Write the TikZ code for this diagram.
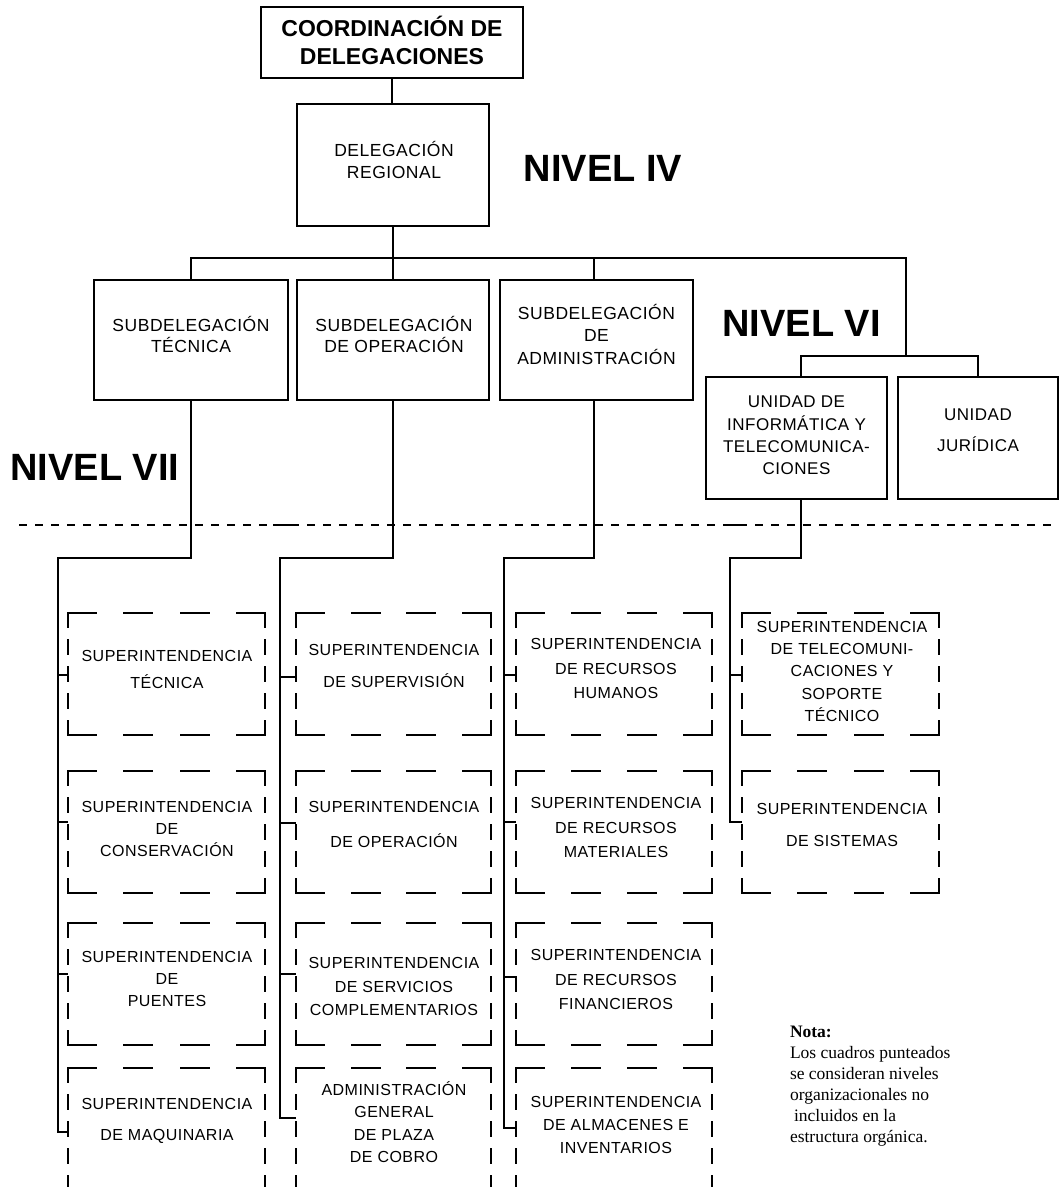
\documentclass[tikz,border=0pt]{standalone}
\usepackage{fontspec}
\setmainfont{Liberation Sans}
\newfontfamily\boxfont[LetterSpace=3]{Liberation Sans}
\newfontfamily\notefont{Liberation Serif}
\newcommand\dbox[4]{%
  \node[dbx, minimum width=#4pt, minimum height=122pt] (#1) at (#2,#3) {};
  \pgfmathsetmacro\hdash{#4/7}%
  \draw[dsides, dash pattern=on \hdash pt off \hdash pt] (#1.north west) -- (#1.north east);
  \draw[dsides, dash pattern=on \hdash pt off \hdash pt] (#1.south west) -- (#1.south east);
  \draw[dsides, dash pattern=on 13.56pt off 13.56pt] (#1.north west) -- (#1.south west);
  \draw[dsides, dash pattern=on 13.56pt off 13.56pt] (#1.north east) -- (#1.south east);
}
\begin{document}
\begin{tikzpicture}[x=1pt,y=-1pt,line width=2pt]
\tikzset{
  sbox/.style={draw, line width=2pt, inner sep=0, outer sep=0},
  dbx/.style={inner sep=0, outer sep=0},
  dsides/.style={line width=2pt, line cap=rect},
  uptxt/.style={font=\boxfont\fontsize{17.5}{22}\selectfont, align=center, inner sep=0},
  lowtxt/.style={font=\boxfont\fontsize{16}{23}\selectfont, align=center, inner sep=0},
  lvl/.style={font=\bfseries\fontsize{38}{40}\selectfont, inner sep=0},
  conn/.style={line width=2pt},
}
\useasboundingbox (0,0) rectangle (1059,1187);
\clip (0,0) rectangle (1059,1187);
\fill[white] (0,0) rectangle (1059,1187);

% ---------- top boxes ----------
\node[sbox, minimum width=262pt, minimum height=71pt] (coord) at (392,42.5) {};
\node[font=\bfseries\fontsize{23}{27.5}\selectfont, align=center, inner sep=0] (tcoord) at (392,40.5) {COORDINACIÓN DE\\DELEGACIONES};

\node[sbox, minimum width=192pt, minimum height=122pt] (deleg) at (393,165) {};
\node[uptxt, font=\boxfont\fontsize{17.5}{22}\selectfont] (tdeleg) at (394,159.5) {DELEGACIÓN\\REGIONAL};

\node[sbox, minimum width=194pt, minimum height=120pt] (sd1) at (191,340) {};
\node[uptxt, font=\boxfont\fontsize{17.5}{20.5}\selectfont] (tsd1) at (191,334.5) {SUBDELEGACIÓN\\TÉCNICA};
\node[sbox, minimum width=192pt, minimum height=120pt] (sd2) at (393,340) {};
\node[uptxt, font=\boxfont\fontsize{17.5}{20.5}\selectfont] (tsd2) at (394,334.5) {SUBDELEGACIÓN\\DE OPERACIÓN};
\node[sbox, minimum width=193pt, minimum height=120pt] (sd3) at (596.5,340) {};
\node[uptxt, font=\boxfont\fontsize{17.5}{22.5}\selectfont] (tsd3) at (596.5,334) {SUBDELEGACIÓN\\DE\\ADMINISTRACIÓN};

\node[sbox, minimum width=181pt, minimum height=122pt] (ui) at (796.5,438) {};
\node[uptxt, font=\boxfont\fontsize{17}{22.3}\selectfont] (tui) at (796.5,435.5) {UNIDAD DE\\INFORMÁTICA Y\\TELECOMUNICA-\\CIONES};
\node[sbox, minimum width=160pt, minimum height=122pt] (uj) at (978,438) {};
\node[uptxt, font=\boxfont\fontsize{17}{31}\selectfont] (tuj) at (978,430.5) {UNIDAD\\JURÍDICA};

% ---------- level labels ----------
\node[lvl] (n4) at (603,168.5) {NIVEL IV};
\node[lvl] (n6) at (801.5,323.5) {NIVEL VI};
\node[lvl] (n7) at (95,467.5) {NIVEL VII};

% ---------- upper connectors ----------
\coordinate (bus) at (393,258);
\coordinate (busR) at (906,258);
\coordinate (j6) at (906,356);
\draw[conn] (coord.south) -- (coord.south |- deleg.north);
\draw[conn] (deleg.south) -- (deleg.south |- bus);
\draw[conn] (sd1.north) -- (sd1.north |- bus) -- (busR) -- (j6);
\draw[conn] (sd2.north) -- (sd2.north |- bus);
\draw[conn] ([xshift=-2.5pt]sd3.north) -- ([xshift=-2.5pt]sd3.north |- bus);
\draw[conn] ([xshift=4.5pt]ui.north) -- ([xshift=4.5pt]ui.north |- j6) -- (uj.north |- j6) -- (uj.north);

% ---------- dashed separator ----------
\coordinate (dl) at (19,525);
\coordinate (dr) at (1054,525);
\draw[line width=2pt, dash pattern=on 8pt off 8pt] (dl) -- (dr);
\coordinate (sa1) at (273,525); \coordinate (sa2) at (297,525);
\coordinate (sb1) at (724,525); \coordinate (sb2) at (745,525);
\draw[line width=2pt] (sa1) -- (sa2);
\draw[line width=2pt] (sb1) -- (sb2);

% ---------- dashed boxes ----------
\dbox{c11}{166.5}{674}{197}
\dbox{c12}{166.5}{832}{197}
\dbox{c13}{166.5}{984}{197}
\dbox{c14}{166.5}{1129}{197}
\dbox{c21}{393.5}{674}{195}
\dbox{c22}{393.5}{832}{195}
\dbox{c23}{393.5}{984}{195}
\dbox{c24}{393.5}{1129}{195}
\dbox{c31}{614}{674}{196}
\dbox{c32}{614}{832}{196}
\dbox{c33}{614}{984}{196}
\dbox{c34}{614}{1129}{196}
\dbox{c41}{840.5}{674}{197}
\dbox{c42}{840.5}{832}{197}

% ---------- dashed box texts ----------
\node[lowtxt, font=\boxfont\fontsize{16}{27}\selectfont] (t11) at (167,669.5) {SUPERINTENDENCIA\\TÉCNICA};
\node[lowtxt, font=\boxfont\fontsize{16}{22}\selectfont] (t12) at (167,829) {SUPERINTENDENCIA\\DE\\CONSERVACIÓN};
\node[lowtxt, font=\boxfont\fontsize{16}{22}\selectfont] (t13) at (167,979) {SUPERINTENDENCIA\\DE\\PUENTES};
\node[lowtxt, font=\boxfont\fontsize{16}{31}\selectfont] (t14) at (167,1121) {SUPERINTENDENCIA\\DE MAQUINARIA};
\node[lowtxt, font=\boxfont\fontsize{16}{32}\selectfont] (t21) at (394,666) {SUPERINTENDENCIA\\DE SUPERVISIÓN};
\node[lowtxt, font=\boxfont\fontsize{16}{35}\selectfont] (t22) at (394,824.5) {SUPERINTENDENCIA\\DE OPERACIÓN};
\node[lowtxt, font=\boxfont\fontsize{16}{23.5}\selectfont] (t23) at (394,986.5) {SUPERINTENDENCIA\\DE SERVICIOS\\COMPLEMENTARIOS};
\node[lowtxt, font=\boxfont\fontsize{16}{22.3}\selectfont] (t24) at (394,1122) {ADMINISTRACIÓN\\GENERAL\\DE PLAZA\\DE COBRO};
\node[lowtxt, font=\boxfont\fontsize{16}{24.5}\selectfont] (t31) at (616,668.5) {SUPERINTENDENCIA\\DE RECURSOS\\HUMANOS};
\node[lowtxt, font=\boxfont\fontsize{16}{24.5}\selectfont] (t32) at (616,827.5) {SUPERINTENDENCIA\\DE RECURSOS\\MATERIALES};
\node[lowtxt, font=\boxfont\fontsize{16}{24.5}\selectfont] (t33) at (616,979.5) {SUPERINTENDENCIA\\DE RECURSOS\\FINANCIEROS};
\node[lowtxt, font=\boxfont\fontsize{16}{23}\selectfont] (t34) at (616,1125) {SUPERINTENDENCIA\\DE ALMACENES E\\INVENTARIOS};
\node[lowtxt, font=\boxfont\fontsize{16}{22.3}\selectfont] (t41) at (842,671.3) {SUPERINTENDENCIA\\DE TELECOMUNI-\\CACIONES Y\\SOPORTE\\TÉCNICO};
\node[lowtxt, font=\boxfont\fontsize{16}{32}\selectfont] (t42) at (842,825) {SUPERINTENDENCIA\\DE SISTEMAS};

% ---------- lower connectors ----------
% column 1
\coordinate (j1) at (58,558);
\coordinate (e1) at (58,1132);
\draw[conn] (sd1.south) |- (j1) -- (e1) -- (e1 -| c14.west);
\coordinate (k11) at (58,675); \draw[conn] (k11) -- (k11 -| c11.west);
\coordinate (k12) at (58,822); \draw[conn] (k12) -- (k12 -| c12.west);
\coordinate (k13) at (58,974); \draw[conn] (k13) -- (k13 -| c13.west);
% column 2
\coordinate (j2) at (280,558);
\coordinate (e2) at (280,1118);
\draw[conn] (sd2.south) |- (j2) -- (e2) -- (e2 -| c24.west);
\coordinate (k21) at (280,677); \draw[conn] (k21) -- (k21 -| c21.west);
\coordinate (k22) at (280,823); \draw[conn] (k22) -- (k22 -| c22.west);
\coordinate (k23) at (280,974); \draw[conn] (k23) -- (k23 -| c23.west);
% column 3
\coordinate (j3) at (504,558);
\coordinate (e3) at (504,1128);
\draw[conn] ([xshift=-2.5pt]sd3.south) |- (j3) -- (e3) -- (e3 -| c34.west);
\coordinate (k31) at (504,675); \draw[conn] (k31) -- (k31 -| c31.west);
\coordinate (k32) at (504,822); \draw[conn] (k32) -- (k32 -| c32.west);
\coordinate (k33) at (504,977); \draw[conn] (k33) -- (k33 -| c33.west);
% column 4
\coordinate (j4) at (730,558);
\coordinate (e4) at (730,822);
\draw[conn] ([xshift=4.5pt]ui.south) |- (j4) -- (e4) -- (e4 -| c42.west);
\coordinate (k41) at (730,675); \draw[conn] (k41) -- (k41 -| c41.west);

% ---------- note ----------
\node[font=\notefont\fontsize{17.5}{21}\selectfont, align=left, anchor=north west, inner sep=0] (nota) at (789,1025)
  {\textbf{Nota:}\\Los cuadros punteados\\se consideran niveles\\organizacionales no\\\hspace{4pt}incluidos en la\\estructura orgánica.};
\end{tikzpicture}
\end{document}
